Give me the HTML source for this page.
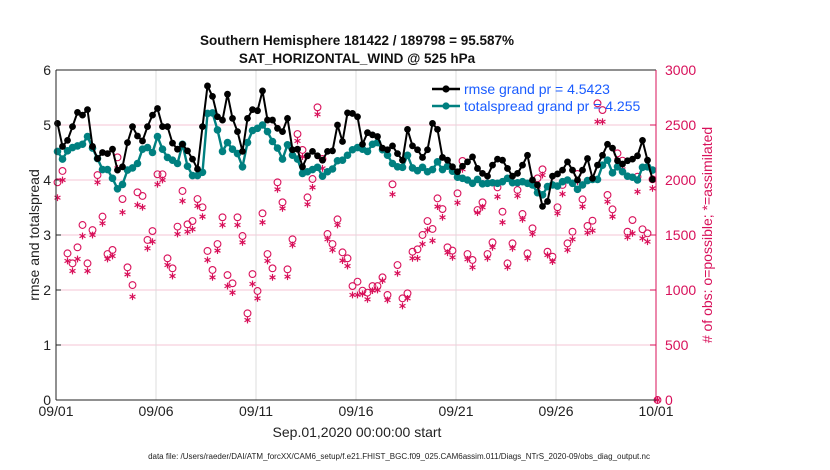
<!DOCTYPE html>
<html><head><meta charset="utf-8"><style>
body{margin:0;background:#fff;width:830px;height:470px;overflow:hidden}
svg{display:block;font-family:"Liberation Sans",sans-serif}
</style></head><body>
<svg id="chart" width="830" height="470" viewBox="0 0 830 470"></svg>
<script>
const rmse=[5.03,4.61,4.72,4.97,5.23,5.18,5.28,4.61,4.39,4.50,4.48,4.56,4.18,4.24,4.68,4.97,4.80,4.71,4.97,5.18,5.30,4.97,4.97,4.67,4.56,4.65,4.53,4.38,4.20,4.97,5.71,
5.52,5.15,5.09,5.56,5.12,4.88,4.52,5.12,5.28,5.26,5.62,5.09,5.09,4.94,4.88,5.12,4.55,4.56,4.24,4.44,4.52,4.44,4.36,4.52,4.53,5.00,4.70,5.22,5.21,5.15,
4.65,4.86,4.82,4.79,4.58,4.55,4.62,4.48,4.36,4.92,4.62,4.55,4.41,4.55,5.03,4.92,4.41,4.36,4.24,4.15,4.25,4.33,4.42,4.21,4.12,4.07,4.27,4.38,4.36,4.21,
4.07,4.12,4.27,4.45,4.00,3.91,3.52,3.61,4.07,4.11,4.18,4.33,4.18,4.00,4.18,4.39,4.03,4.27,4.45,4.65,4.58,4.35,4.29,4.35,4.38,4.44,4.72,4.36,4.01];
const spread=[4.52,4.38,4.53,4.59,4.62,4.65,4.79,4.58,4.39,4.19,4.19,4.03,3.84,3.92,4.18,4.22,4.30,4.56,4.59,4.50,4.79,4.56,4.41,4.36,4.30,4.65,4.25,4.08,4.08,4.14,5.21,
5.22,4.91,4.52,4.68,4.56,4.48,4.24,4.68,4.90,4.94,5.00,4.88,4.70,4.58,4.38,4.64,4.45,4.38,4.12,4.15,4.19,4.23,4.07,4.15,4.20,4.35,4.36,4.45,4.55,4.59,
4.56,4.52,4.65,4.68,4.55,4.45,4.30,4.24,4.23,4.45,4.22,4.17,4.23,4.15,4.19,4.33,4.19,4.25,4.16,4.05,4.03,4.00,3.94,4.01,3.93,3.94,3.95,3.94,3.97,4.03,
3.95,3.95,3.97,3.94,3.91,3.77,3.73,3.88,3.91,3.89,3.97,4.00,3.94,3.83,3.91,3.99,4.01,4.01,4.27,4.36,4.13,4.24,4.15,4.07,4.05,4.00,4.23,4.24,4.18];
const obsPossible=[1979,2082,1333,1242,1388,1591,1242,1545,2045,1667,1327,1364,2206,1827,1206,1045,1888,1855,1455,1536,2052,2052,1288,1197,1576,1900,1597,1627,1827,1752,1355,
1182,1418,1661,1136,1061,1661,1491,788,1145,991,1697,1327,1197,1979,1797,1188,1461,2418,2273,1842,2009,2661,2191,1509,1418,1642,1342,1288,1036,1076,
994,976,1036,1036,1115,955,1961,1227,924,970,1348,1370,1500,1627,1555,1833,1736,1388,1358,1879,2173,1327,1273,1727,1797,1327,1433,1933,1712,1242,
1424,1909,1691,1333,1561,2015,2097,1348,1303,1752,1955,1424,1530,2055,1824,1582,1630,2697,2636,1864,1733,2242,2176,1530,1636,2030,1552,1515,2006,0];
const obsAssim=[1839,2000,1264,1173,1282,1491,1173,1500,1979,1606,1282,1309,2106,1706,1142,939,1773,1752,1379,1439,1961,2000,1227,1127,1509,1809,1530,1552,1764,1667,1273,
1115,1358,1591,1036,976,1591,1433,727,1055,924,1615,1264,1115,1915,1742,1121,1409,2355,2212,1779,1933,2597,2106,1461,1364,1591,1267,1218,955,955,
964,915,994,1000,1085,909,1870,1152,855,924,1288,1288,1418,1545,1448,1758,1661,1339,1297,1794,2097,1279,1206,1703,1752,1288,1388,1848,1615,1206,
1379,1855,1642,1288,1509,1939,2045,1318,1258,1697,1873,1364,1461,1985,1758,1521,1539,2530,2530,1803,1667,2182,2097,1479,1515,1894,1470,1439,1924,0];
const xTickLabels=["09/01","09/06","09/11","09/16","09/21","09/26","10/01"];
const yLeftTicks=[0,1,2,3,4,5,6];
const yRightTicks=[0,500,1000,1500,2000,2500,3000];

const svg=document.getElementById('chart');
const NS='http://www.w3.org/2000/svg';
const L=56,R=656,T=70,B=400;
const xOf=i=>L+1.5+(R-L)*(i/120);
const yL=v=>B-(B-T)*v/6;
const yR=v=>B-(B-T)*v/3000;
const CR='#d8105a';
function el(tag,attrs,parent){const e=document.createElementNS(NS,tag);for(const k in attrs)e.setAttribute(k,attrs[k]);(parent||svg).appendChild(e);return e;}
function txt(s,attrs){const e=el('text',attrs);e.textContent=s;return e;}

// grid
yLeftTicks.slice(1,6).forEach(v=>{const g=el('line',{x1:L,x2:R,y1:yL(v),y2:yL(v),stroke:'#f4c6d6','stroke-width':1});

});
xTickLabels.forEach((s,k)=>{const x=L+(R-L)*k/6;
if(k>0&&k<6){const g=el('line',{x1:x,x2:x,y1:T,y2:B,stroke:'#dcdcdc','stroke-width':1});

}
const t=txt(s,{x:x,y:416,'font-size':14,'text-anchor':'middle',fill:'#222'});

});
yLeftTicks.forEach(v=>{const t=txt(String(v),{x:51,y:yL(v)+5,'font-size':14,'text-anchor':'end',fill:'#222'});


el('line',{x1:L,x2:L+5,y1:yL(v),y2:yL(v),stroke:'#222'});});
yRightTicks.forEach(v=>{const t=txt(String(v),{x:665,y:yR(v)+5,'font-size':14,fill:CR});


el('line',{x1:R-6,x2:R,y1:yR(v),y2:yR(v),stroke:CR});});

// obs
function star(x,y,g){const r=3.4;[[0,1],[0.87,0.5],[0.87,-0.5]].forEach(d=>el('line',{x1:x-d[0]*r,y1:y-d[1]*r,x2:x+d[0]*r,y2:y+d[1]*r,stroke:CR,'stroke-width':1.2},g));}
const gObs=el('g',{});


obsPossible.forEach((v,i)=>{const c=el('circle',{cx:xOf(i),cy:yR(v),r:3.4,fill:'none',stroke:CR,'stroke-width':1.1},gObs);

});
obsAssim.forEach((v,i)=>star(xOf(i),yR(v),gObs));

// lines
function series(arr,color,w,r,name){const g=el('g',{});


el('polyline',{points:arr.map((v,i)=>xOf(i)+','+yL(v)).join(' '),fill:'none',stroke:color,'stroke-width':w},g);
arr.forEach((v,i)=>{const c=el('circle',{cx:xOf(i),cy:yL(v),r:r,fill:color},g);

});}
series(spread,'#008080',2.4,3.8,'totalspread-series');
series(rmse,'#000',2,3.4,'rmse-series');

// axes box
el('line',{x1:L,x2:R,y1:T,y2:T,stroke:'#222'});
el('line',{x1:L,x2:R,y1:B,y2:B,stroke:'#222'});
el('line',{x1:L,x2:L,y1:T,y2:B,stroke:'#222'});
el('line',{x1:R,x2:R,y1:T,y2:B,stroke:CR});

// legend
[['rmse grand pr = 4.5423','#000',89,'legend-rmse'],['totalspread grand pr = 4.255','#008080',106,'legend-totalspread']].forEach(l=>{
const g=el('g',{});


el('line',{x1:432,x2:460,y1:l[2],y2:l[2],stroke:l[1],'stroke-width':2.4},g);
el('circle',{cx:446,cy:l[2],r:3.6,fill:l[1]},g);
const t=el('text',{x:464,y:l[2]+5,'font-size':14,fill:'#1a5cff'},g);t.textContent=l[0];});

// titles
[['Southern Hemisphere 181422 / 189798 = 95.587%',45,'chart-title'],['SAT_HORIZONTAL_WIND @ 525 hPa',63,'chart-subtitle']].forEach(a=>{
const t=txt(a[0],{x:357,y:a[1],'font-size':13.5,'font-weight':'bold','text-anchor':'middle',fill:'#111'});

});
let t=txt('rmse and totalspread',{x:0,y:0,'font-size':14,'text-anchor':'middle',fill:'#222',transform:'translate(39,235) rotate(-90)'});


t=txt('# of obs: o=possible; *=assimilated',{x:0,y:0,'font-size':14,'text-anchor':'middle',fill:CR,transform:'translate(712,235) rotate(-90)'});


t=txt('Sep.01,2020 00:00:00 start',{x:357,y:437,'font-size':14,'text-anchor':'middle',fill:'#222'});


t=txt('data file: /Users/raeder/DAI/ATM_forcXX/CAM6_setup/f.e21.FHIST_BGC.f09_025.CAM6assim.011/Diags_NTrS_2020-09/obs_diag_output.nc',{x:399,y:459,'font-size':8,'text-anchor':'middle',fill:'#222'});


</script>
</body></html>
